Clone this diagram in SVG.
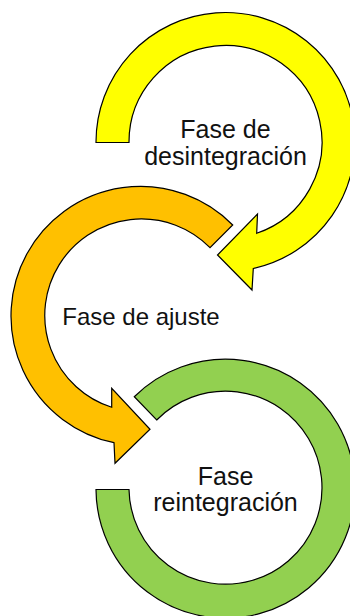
<svg xmlns="http://www.w3.org/2000/svg" width="350" height="616" viewBox="0 0 350 616">
<style>
.ring{stroke:#000;stroke-width:1.2;stroke-linejoin:miter}
.y{fill:#FFFF00}
.o{fill:#FFC000}
.g{fill:#92D050}
.lbl{font-family:"Liberation Sans",Arial,sans-serif;fill:#111;text-anchor:middle}
</style>
<rect width="350" height="616" fill="#fff"/>
<g id="node-desintegracion">
<path class="ring y" d="M 96,142.5 A 129.5 129.5 0 1 1 253.3,268.5 L 252,290 L 217.5,255 L 257.5,214 L 256.7,233.3 A 96.5 96.5 0 1 0 129,142.5 Z"/>
<text class="lbl" font-size="25" x="225.5" y="138">Fase de</text>
<text class="lbl" font-size="25" x="225.5" y="165">desintegración</text>
</g>
<g id="node-ajuste">
<path class="ring o" d="M 232.7,225 A 129.5 129.5 0 1 0 114,442.7 L 115,463.3 L 150,429.3 L 111.7,388.3 L 111.7,407.3 A 96.5 96.5 0 1 1 210,247.7 Z"/>
<text class="lbl" font-size="24" x="141" y="325">Fase de ajuste</text>
</g>
<g id="node-reintegracion">
<path class="ring g" d="M 134.3,396.7 A 129.5 129.5 0 1 1 96,489.5 L 129,489.5 A 96.5 96.5 0 1 0 156.7,420 Z"/>
<text class="lbl" font-size="25" x="225.5" y="485">Fase</text>
<text class="lbl" font-size="25" x="225.5" y="511">reintegración</text>
</g>
<g id="connectors"/>
</svg>
